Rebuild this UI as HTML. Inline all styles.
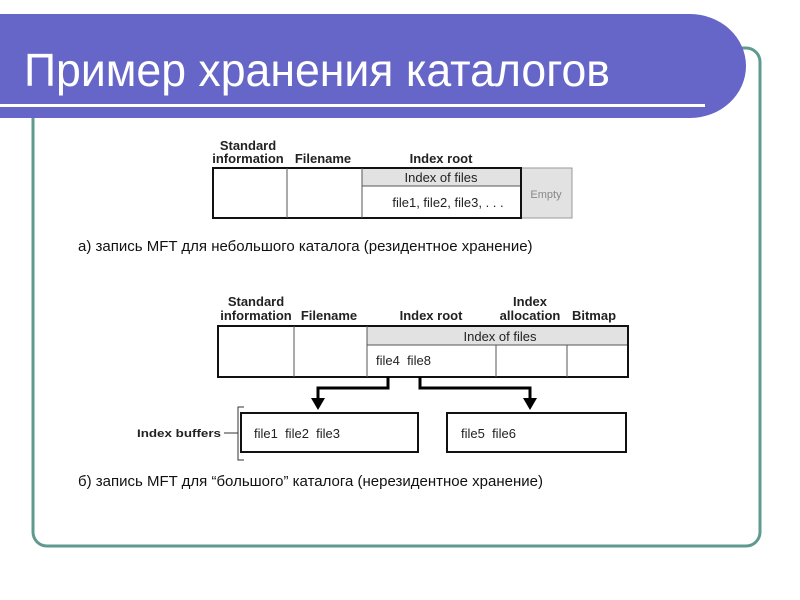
<!DOCTYPE html>
<html><head><style>
body{margin:0;width:800px;height:600px;background:#fff;overflow:hidden;font-family:"Liberation Sans",sans-serif;}
text{white-space:pre;}
</style></head><body>
<svg width="800" height="600" xmlns="http://www.w3.org/2000/svg" style="position:absolute;left:0;top:0">
<rect x="33" y="48" width="727" height="498" rx="14" fill="none" stroke="#5f9a8f" stroke-width="3"/>
<path d="M0 14 H690 A56 52 0 0 1 690 118 H0 Z" fill="#6666c8"/>
<rect x="0" y="104" width="705" height="3" fill="#fff"/>
<text x="24" y="86" font-size="46" fill="#fff" font-family="Liberation Sans" textLength="586" lengthAdjust="spacingAndGlyphs">Пример хранения каталогов</text>
<g font-family="Liberation Sans" font-size="13" fill="#222">
<text x="248" y="150" text-anchor="middle" font-weight="bold">Standard</text>
<text x="248" y="163" text-anchor="middle" font-weight="bold">information</text>
<text x="323" y="163" text-anchor="middle" font-weight="bold">Filename</text>
<text x="441" y="163" text-anchor="middle" font-weight="bold">Index root</text>
<rect x="521" y="168" width="51" height="50" fill="#e2e2e2" stroke="#999"/>
<text x="546" y="198" text-anchor="middle" fill="#888" font-size="11">Empty</text>
<rect x="362" y="168" width="159" height="18" fill="#e2e2e2"/>
<line x1="362" y1="186" x2="521" y2="186" stroke="#555"/>
<rect x="213" y="168" width="308" height="50" fill="none" stroke="#111" stroke-width="2"/>
<line x1="287" y1="168" x2="287" y2="218" stroke="#555"/>
<line x1="362" y1="168" x2="362" y2="218" stroke="#555"/>
<text x="441" y="182" text-anchor="middle">Index of files</text>
<text x="448" y="207" text-anchor="middle">file1, file2, file3, . . .</text>
</g>
<text x="78" y="251" font-size="15" fill="#111" font-family="Liberation Sans">а) запись MFT для небольшого каталога (резидентное хранение)</text>
<g font-family="Liberation Sans" font-size="13" fill="#222">
<text x="256" y="306" text-anchor="middle" font-weight="bold">Standard</text>
<text x="256" y="320" text-anchor="middle" font-weight="bold">information</text>
<text x="329" y="320" text-anchor="middle" font-weight="bold">Filename</text>
<text x="431" y="320" text-anchor="middle" font-weight="bold">Index root</text>
<text x="530" y="306" text-anchor="middle" font-weight="bold">Index</text>
<text x="530" y="320" text-anchor="middle" font-weight="bold">allocation</text>
<text x="594" y="320" text-anchor="middle" font-weight="bold">Bitmap</text>
<rect x="367" y="326" width="261" height="19" fill="#e2e2e2"/>
<line x1="367" y1="345" x2="628" y2="345" stroke="#555"/>
<rect x="218" y="326" width="410" height="51" fill="none" stroke="#111" stroke-width="2"/>
<line x1="294" y1="326" x2="294" y2="377" stroke="#555"/>
<line x1="367" y1="326" x2="367" y2="377" stroke="#555"/>
<line x1="496" y1="345" x2="496" y2="377" stroke="#555"/>
<line x1="567" y1="345" x2="567" y2="377" stroke="#555"/>
<text x="500" y="341" text-anchor="middle">Index of files</text>
<text x="376" y="365">file4  file8</text>
<path d="M388 377 V388 H318 V400" fill="none" stroke="#000" stroke-width="3"/>
<path d="M311 398 L318 410 L325 398 Z" fill="#000"/>
<path d="M420 377 V388 H530 V400" fill="none" stroke="#000" stroke-width="3"/>
<path d="M523 398 L530 410 L537 398 Z" fill="#000"/>
<rect x="241" y="413" width="177" height="39" fill="none" stroke="#111" stroke-width="2"/>
<rect x="447" y="413" width="179" height="39" fill="none" stroke="#111" stroke-width="2"/>
<text x="254" y="438">file1  file2  file3</text>
<text x="461" y="438">file5  file6</text>
<path d="M244 407 H238 V460 H244" fill="none" stroke="#333"/>
<line x1="224" y1="433" x2="238" y2="433" stroke="#333"/>
<text x="137" y="437" font-weight="bold" font-size="11" textLength="84" lengthAdjust="spacingAndGlyphs">Index buffers</text>
</g>
<text x="78" y="486" font-size="15" fill="#111" font-family="Liberation Sans">б) запись MFT для “большого” каталога (нерезидентное хранение)</text>
</svg>
</body></html>
